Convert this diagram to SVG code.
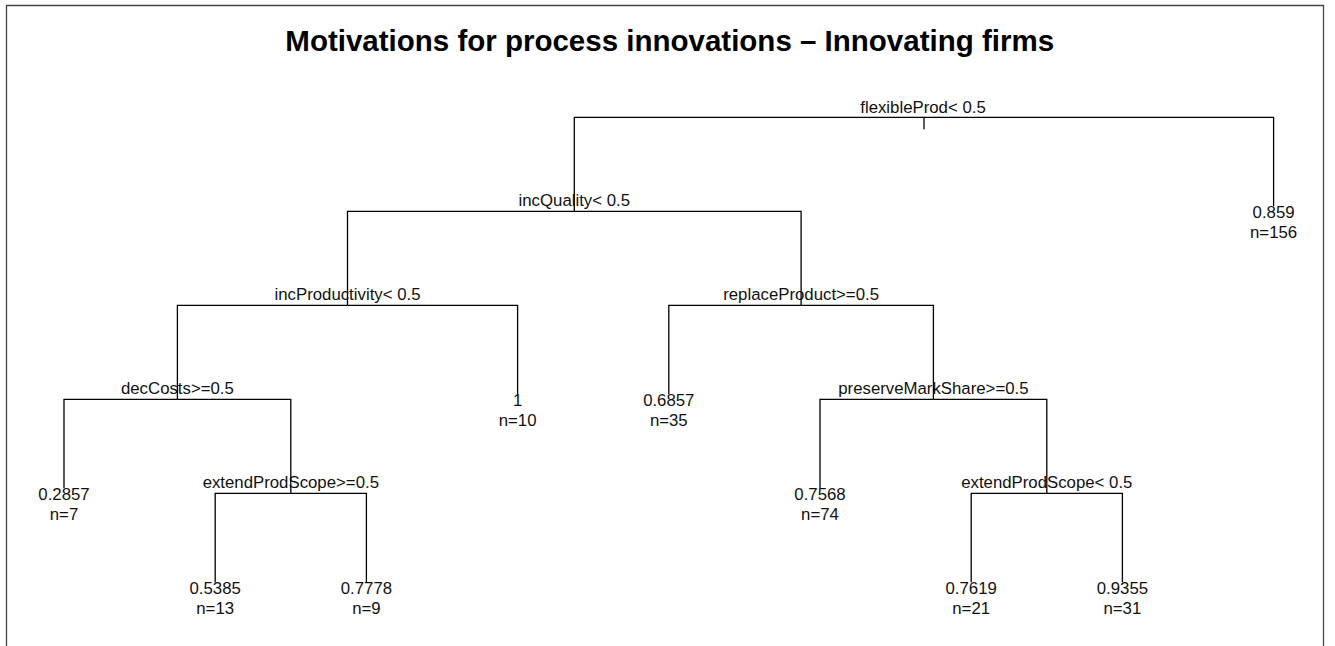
<svg xmlns="http://www.w3.org/2000/svg" width="1335" height="646" viewBox="0 0 1335 646">
<style>
.t{font-family:"Liberation Sans",Arial,sans-serif;font-size:16.8px;fill:#111;text-anchor:middle}
.title{font-family:"Liberation Sans",Arial,sans-serif;font-size:29.5px;font-weight:bold;fill:#000;text-anchor:middle}
.br{fill:none;stroke:#000;stroke-width:1.3}
</style>
<rect width="1335" height="646" fill="#fff"/>
<path d="M6.5,646 V5.5 H1323.5 V646" fill="none" stroke="#444" stroke-width="1.3"/>
<text class="title" x="669.7" y="51">Motivations for process innovations – Innovating firms</text>
<g id="connectors" class="br">
<path class="br" d="M924,117.3 V129.3"/>
<path class="br" d="M924,117.3 H574.3 V211.3"/>
<path class="br" d="M924,117.3 H1273.6 V206.3"/>
<path class="br" d="M574.3,211.3 H347.5 V305.3"/>
<path class="br" d="M574.3,211.3 H801.1 V305.3"/>
<path class="br" d="M347.5,305.3 H177.4 V399.3"/>
<path class="br" d="M347.5,305.3 H517.6 V394.3"/>
<path class="br" d="M801.1,305.3 H668.8 V394.3"/>
<path class="br" d="M801.1,305.3 H933.4 V399.3"/>
<path class="br" d="M177.4,399.3 H64 V488.3"/>
<path class="br" d="M177.4,399.3 H290.8 V493.3"/>
<path class="br" d="M933.4,399.3 H820 V488.3"/>
<path class="br" d="M933.4,399.3 H1046.8 V493.3"/>
<path class="br" d="M290.8,493.3 H215.2 V582.3"/>
<path class="br" d="M290.8,493.3 H366.4 V582.3"/>
<path class="br" d="M1046.8,493.3 H971.2 V582.3"/>
<path class="br" d="M1046.8,493.3 H1122.4 V582.3"/>
</g>
<g id="node-flexibleProd"><text class="t" x="923" y="112.5">flexibleProd&lt; 0.5</text></g>
<g id="node-incQuality"><text class="t" x="574.3" y="206">incQuality&lt; 0.5</text></g>
<g id="node-incProductivity"><text class="t" x="347.5" y="300">incProductivity&lt; 0.5</text></g>
<g id="node-replaceProduct"><text class="t" x="801.1" y="300">replaceProduct&gt;=0.5</text></g>
<g id="node-decCosts"><text class="t" x="177.4" y="394">decCosts&gt;=0.5</text></g>
<g id="node-preserveMarkShare"><text class="t" x="933.4" y="394">preserveMarkShare&gt;=0.5</text></g>
<g id="node-extendProdScope1"><text class="t" x="290.8" y="488">extendProdScope&gt;=0.5</text></g>
<g id="node-extendProdScope2"><text class="t" x="1046.8" y="488">extendProdScope&lt; 0.5</text></g>
<g id="leaf-0859"><text class="t" x="1273.6" y="218.3">0.859</text><text class="t" x="1273.6" y="238.3">n=156</text></g>
<g id="leaf-1"><text class="t" x="517.6" y="406.3">1</text><text class="t" x="517.6" y="426.3">n=10</text></g>
<g id="leaf-06857"><text class="t" x="668.8" y="406.3">0.6857</text><text class="t" x="668.8" y="426.3">n=35</text></g>
<g id="leaf-02857"><text class="t" x="64" y="500.3">0.2857</text><text class="t" x="64" y="520.3">n=7</text></g>
<g id="leaf-07568"><text class="t" x="820" y="500.3">0.7568</text><text class="t" x="820" y="520.3">n=74</text></g>
<g id="leaf-05385"><text class="t" x="215.2" y="594.3">0.5385</text><text class="t" x="215.2" y="614.3">n=13</text></g>
<g id="leaf-07778"><text class="t" x="366.4" y="594.3">0.7778</text><text class="t" x="366.4" y="614.3">n=9</text></g>
<g id="leaf-07619"><text class="t" x="971.2" y="594.3">0.7619</text><text class="t" x="971.2" y="614.3">n=21</text></g>
<g id="leaf-09355"><text class="t" x="1122.4" y="594.3">0.9355</text><text class="t" x="1122.4" y="614.3">n=31</text></g>
</svg>
